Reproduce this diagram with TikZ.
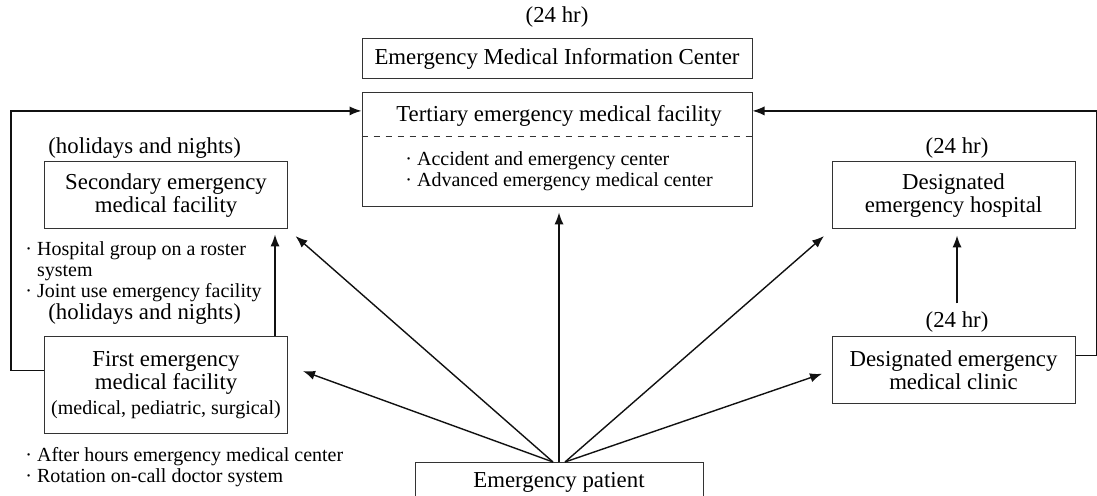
\documentclass[tikz,border=0pt]{standalone}
\usepackage{fontspec}
\setmainfont{Liberation Serif}
\usetikzlibrary{positioning, calc, arrows.meta}
\definecolor{LineDark}{HTML}{111111}
\definecolor{BoxEdge} {HTML}{333333}

\tikzset{
  box/.style={draw=BoxEdge, line width=0.5pt, inner sep=0pt, align=center,
              minimum width=121.5pt, minimum height=33.5pt,
              font=\fontsize{11.4}{11.6}\selectfont},
  tag/.style={inner sep=0pt, font=\fontsize{11.4}{12}\selectfont},
  note/.style={inner sep=0pt, align=left, font=\fontsize{10}{10.6}\selectfont},
  arr/.style={draw=LineDark, line width=0.7pt, -{Latex[length=6pt,width=4.6pt]}},
}

\begin{document}
\begin{tikzpicture}[x=0.5pt, y=-0.5pt]
  \clip (0,0) rectangle (1097,496);

  % information center and tertiary level
  \node[tag] (hrtop) at (557,17) {(24 hr)};
  \node[box, minimum width=195pt, minimum height=20pt] (emic) at (557,59)
    {Emergency Medical Information Center};
  \node[box, minimum width=195pt, minimum height=57pt] (tert) at (557,150) {};
  \node[tag] (terttl) at (559,116) {Tertiary emergency medical facility};
  \draw[dashed, BoxEdge, line width=0.5pt]
    ($(tert.north west)!0.386!(tert.south west)$) -- ($(tert.north east)!0.386!(tert.south east)$);
  \node[note, anchor=west] (tertls) at (405,171.5)
    {· Accident and emergency center\\· Advanced emergency medical center};

  % secondary and first level (left)
  \node[tag, anchor=west] (secnt) at (48,148) {(holidays and nights)};
  \node[box] (sec) at (166,195.5) {Secondary emergency\\medical facility};
  \node[note, anchor=north west] (secls) at (25,241)
    {· Hospital group on a roster\\\phantom{· }system\\· Joint use emergency facility};
  \node[tag, anchor=west] (firnt) at (48,314) {(holidays and nights)};
  \node[box, minimum height=48pt] (first) at (166,385)
    {First emergency\\medical facility\\[1pt]{\fontsize{10}{11}\selectfont(medical, pediatric, surgical)}};
  \node[note, anchor=north west] (firls) at (25,447)
    {· After hours emergency medical center\\· Rotation on-call doctor system};

  % designated hospital and clinic (right)
  \node[tag] (hrhosp) at (957,148) {(24 hr)};
  \node[box] (hosp) at (953.5,195.5) {Designated\\emergency hospital};
  \node[tag] (hrclin) at (957,322) {(24 hr)};
  \node[box] (clin) at (953.5,370.5) {Designated emergency\\medical clinic};

  % patient, runs off the bottom edge
  \node[box, minimum width=144pt, minimum height=20pt, anchor=north] (pat) at (559,462)
    {Emergency patient};

  % fan of arrows out of the patient box
  \draw[arr, shorten >=8pt] ($(pat.north)+(-6,0)$) -- ($(first.north east)!0.3!(first.south east)$);
  \draw[arr, shorten >=5pt] ($(pat.north)+(-6,0)$) -- (sec.south east);
  \draw[arr, shorten >=2.5pt] (pat.north) -- (pat.north |- tert.south);
  \draw[arr, shorten >=5pt] ($(pat.north)+(6,0)$) -- (hosp.south west);
  \draw[arr, shorten >=5pt] ($(pat.north)+(6,0)$) -- (clin.west);

  % upward links
  \draw[arr, shorten >=2.5pt] ($(first.north east)+(-13,0)$) -- ($(sec.south east)+(-13,0)$);
  \draw[arr, shorten <=4pt, shorten >=3pt] (hrclin.north) -- (hrclin.north |- hosp.south);

  % side loops into the tertiary box
  \coordinate (tl) at ($(tert.north west)!0.16!(tert.south west)$);
  \coordinate (tr) at ($(tert.north east)!0.16!(tert.south east)$);
  \draw[arr] ($(first.north west)!0.35!(first.south west)$) -- ++(-33,0) |- (tl);
  \draw[arr] ($(clin.north east)!0.28!(clin.south east)$) -- ++(21,0) |- (tr);
\end{tikzpicture}
\end{document}
